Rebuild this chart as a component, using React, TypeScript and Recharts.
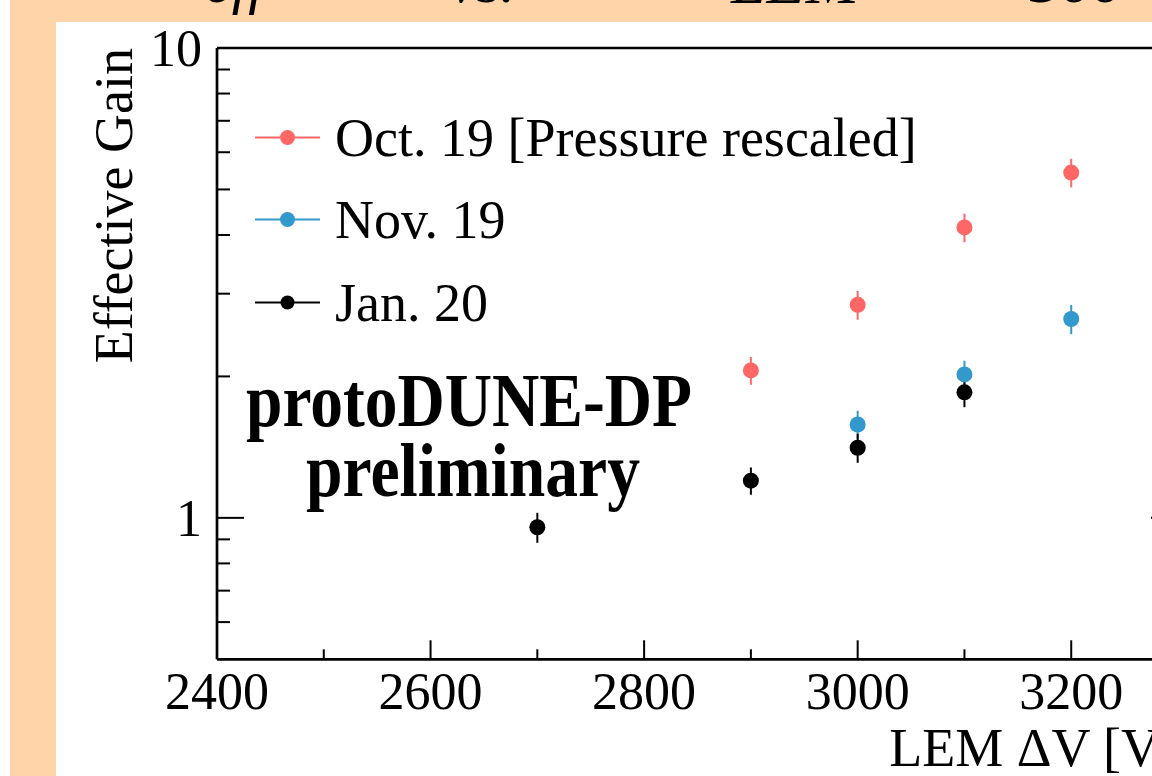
import React from "react";
import { ErrorBar, Scatter, ScatterChart, XAxis, YAxis } from "recharts";

const octVoltage = [2900, 3000, 3100, 3200];
const octGain = [2.06, 2.84, 4.15, 5.43];
const octErr = [0.14, 0.2, 0.29, 0.38];

const novVoltage = [3000, 3100, 3200];
const novGain = [1.58, 2.02, 2.65];
const novErr = [0.11, 0.14, 0.19];

const janVoltage = [2700, 2900, 3000, 3100];
const janGain = [0.955, 1.2, 1.41, 1.85];
const janErr = [0.07, 0.08, 0.1, 0.13];

const seriesNames = ["Oct. 19 [Pressure rescaled]", "Nov. 19", "Jan. 20"];
const seriesColors = ["#ff6666", "#3399cc", "#000000"];

const xTicks = [2400, 2500, 2600, 2700, 2800, 2900, 3000, 3100, 3200, 3300];
const xLabelTicks = [2400, 2600, 2800, 3000, 3200];
const yTicks = [0.6, 0.7, 0.8, 0.9, 1, 2, 3, 4, 5, 6, 7, 8, 9, 10];
const yLabelTicks = [1, 10];

const FONT = "'Liberation Serif', 'Times New Roman', serif";
const PEACH = "#fed4a8";

function toPoints(xs: number[], ys: number[], errs: number[]) {
  return xs.map((x, i) => ({ x, y: ys[i], err: errs[i] }));
}

const series = [
  toPoints(octVoltage, octGain, octErr),
  toPoints(novVoltage, novGain, novErr),
  toPoints(janVoltage, janGain, janErr),
];

type TickProps = { x?: number; y?: number; payload?: { value: number } };

function BottomTick({ x = 0, y = 0, payload }: TickProps) {
  const v = payload?.value ?? 0;
  const major = xLabelTicks.includes(v);
  return <g>
    <line x1={x} x2={x} y1={y} y2={y - (major ? 19 : 10)} stroke="#000" strokeWidth={2}/>
    {major ? <text x={x} y={y + 50} textAnchor="middle" fontSize={52} fontFamily={FONT} fill="#000">{v}</text> : null}
  </g>;
}

function TopTick({ x = 0, y = 0, payload }: TickProps) {
  const major = xLabelTicks.includes(payload?.value ?? 0);
  return <line x1={x} x2={x} y1={y} y2={y + (major ? 19 : 10)} stroke="#000" strokeWidth={2}/>;
}

function LeftTick({ x = 0, y = 0, payload }: TickProps) {
  const v = payload?.value ?? 0;
  const major = yLabelTicks.includes(v);
  return <g>
    <line x1={x} x2={x + (major ? 27 : 13)} y1={y} y2={y} stroke="#000" strokeWidth={2}/>
    {major ? <text x={x - 15} y={y + 18} textAnchor="end" fontSize={52} fontFamily={FONT} fill="#000">{v}</text> : null}
  </g>;
}

function RightTick({ x = 0, y = 0, payload }: TickProps) {
  const major = yLabelTicks.includes(payload?.value ?? 0);
  return <line x1={x} x2={x - (major ? 27 : 13)} y1={y} y2={y} stroke="#000" strokeWidth={2}/>;
}

function dot(color: string) {
  return (p: { cx?: number; cy?: number }) => <circle cx={p.cx} cy={p.cy} r={8} fill={color}/>;
}

export default function App() {
  return <div style={{ position: "fixed", left: 0, top: 0, width: 1152, height: 776, overflow: "hidden", background: PEACH }}>
    <svg width={1152} height={776} style={{ position: "absolute", left: 0, top: 0 }}>
      <rect x={0} y={0} width={10} height={776} fill="#fff"/>
      <rect x={56} y={22} width={1096} height={754} fill="#fff"/>
      <g fontFamily={FONT} fontStyle="italic" fontSize={60} fill="#000">
        <text x={205} y={2}>eff</text>
        <text x={450} y={2}>vs.</text>
        <text x={731} y={3} fontSize={64}>LEM</text>
        <text x={1030} y={2} fontSize={62}>300</text>
      </g>
    </svg>
    <div style={{ position: "absolute", left: 0, top: 0 }}>
      <ScatterChart width={1260} height={776} margin={{ top: 18, right: 22, bottom: 86.7, left: 157 }}>
        <XAxis xAxisId="bottom" dataKey="x" type="number" domain={[2400, 3300]} ticks={xTicks} interval={0}
          allowDataOverflow tickSize={0} tickMargin={0} tickLine={false} tick={<BottomTick/>}
          axisLine={{ stroke: "#000", strokeWidth: 2.7 }} height={30}/>
        <XAxis xAxisId="top" orientation="top" type="number" domain={[2400, 3300]} ticks={xTicks} interval={0}
          allowDataOverflow tickSize={0} tickMargin={0} tickLine={false} tick={<TopTick/>}
          axisLine={{ stroke: "#000", strokeWidth: 2.7 }} height={30}/>
        <YAxis yAxisId="left" dataKey="y" type="number" scale="log" domain={[0.5, 10]} ticks={yTicks} interval={0}
          allowDataOverflow tickSize={0} tickMargin={0} tickLine={false} tick={<LeftTick/>}
          axisLine={{ stroke: "#000", strokeWidth: 2.7 }} width={60}/>
        <YAxis yAxisId="right" orientation="right" type="number" scale="log" domain={[0.5, 10]} ticks={yTicks} interval={0}
          allowDataOverflow tickSize={0} tickMargin={0} tickLine={false} tick={<RightTick/>}
          axisLine={{ stroke: "#000", strokeWidth: 2.7 }} width={60}/>
        {series.map((data, i) => <Scatter key={seriesNames[i]} name={seriesNames[i]} data={data}
          xAxisId="bottom" yAxisId="left" fill={seriesColors[i]} shape={dot(seriesColors[i])} isAnimationActive={false}>
          <ErrorBar dataKey="err" direction="y" width={0} stroke={seriesColors[i]} strokeWidth={2} isAnimationActive={false}/>
        </Scatter>)}
      </ScatterChart>
    </div>
    <svg width={1152} height={776} style={{ position: "absolute", left: 0, top: 0, pointerEvents: "none" }}>
      <g fontFamily={FONT} fill="#000">
        {seriesNames.map((name, i) => {
          const cy = [137.5, 219.5, 302.5][i];
          return <g key={name}>
            <line x1={255} x2={320} y1={cy} y2={cy} stroke={seriesColors[i]} strokeWidth={2}/>
            <circle cx={287.5} cy={cy} r={i === 2 ? 7 : 7.5} fill={seriesColors[i]}/>
            <text x={335} y={cy + 18} fontSize={54}>{name}</text>
          </g>;
        })}
        <text x={246} y={426} fontSize={76} fontWeight="bold" textLength={446} lengthAdjust="spacingAndGlyphs">protoDUNE-DP</text>
        <text x={306} y={496} fontSize={76} fontWeight="bold" textLength={334} lengthAdjust="spacingAndGlyphs">preliminary</text>
        <text transform="translate(132,48) rotate(-90)" textAnchor="end" fontSize={54}>Effective Gain</text>
        <text x={1178} y={766} textAnchor="end" fontSize={54}>LEM ΔV [V]</text>
      </g>
    </svg>
  </div>;
}
